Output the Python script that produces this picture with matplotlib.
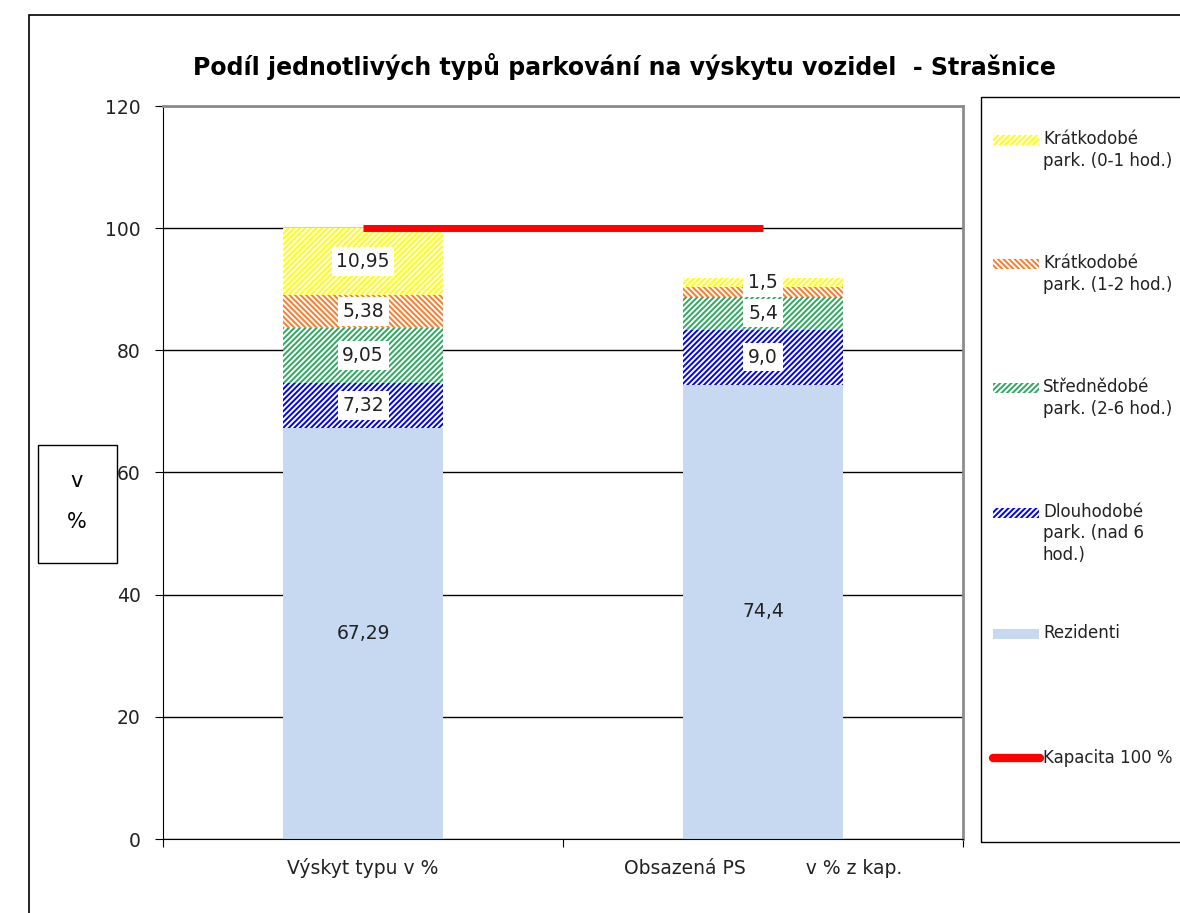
import matplotlib.pyplot as plt
from matplotlib.patches import Rectangle
from matplotlib.lines import Line2D

categories = ["Výskyt typu v %", "Obsazená PS          v % z kap."]
series = ["Rezidenti",
          "Dlouhodobé\npark. (nad 6\nhod.)",
          "Střednědobé\npark. (2-6 hod.)",
          "Krátkodobé\npark. (1-2 hod.)",
          "Krátkodobé\npark. (0-1 hod.)"]
values = [
    [67.29, 74.4],   # Rezidenti
    [7.32, 9.0],     # Dlouhodobé
    [9.05, 5.4],     # Střednědobé
    [5.38, 1.5],     # Krátkodobé 1-2
    [10.95, 1.5],    # Krátkodobé 0-1
]
# the 1-2 hod. label of the second bar is hidden behind the 0-1 hod. one in the original
labels = [
    ["67,29", "74,4"],
    ["7,32", "9,0"],
    ["9,05", "5,4"],
    ["5,38", ""],
    ["10,95", "1,5"],
]
capacity = 100
capacity_label = "Kapacita 100 %"

colors = ["#C6D9F0", "#0000FF", "#2DAA5E", "#FF7A2A", "#FFFF00"]
hatches = [None, "//////", "//////", "\\\\\\\\\\\\", "//////"]

plt.rcParams['font.family'] = ['DejaVu Sans']
plt.rcParams['hatch.linewidth'] = 1.4

fig = plt.figure(figsize=(11.8, 9.13), dpi=100)
W, H = 1180, 913

def fx(px):
    return px / W

def fy(py):
    return 1 - py / H

ax = fig.add_axes([fx(163), fy(839), fx(963) - fx(163), fy(106) - fy(839)])

x = range(len(categories))
bottom = [0, 0]
for i, (vals, col, hat) in enumerate(zip(values, colors, hatches)):
    if hat is None:
        ax.bar(x, vals, width=0.4, bottom=bottom, color=col, linewidth=0, zorder=2)
    else:
        ax.bar(x, vals, width=0.4, bottom=bottom, facecolor="white",
               edgecolor=col, hatch=hat, linewidth=0, zorder=2)
    for j, v in enumerate(vals):
        if not labels[i][j]:
            continue
        yc = bottom[j] + v / 2
        if hat is None:
            ax.text(j, yc, labels[i][j], ha="center", va="center", fontsize=13.5,
                    color="#222222", zorder=5)
        else:
            ax.text(j, yc, labels[i][j], ha="center", va="center", fontsize=13.5,
                    color="#222222", zorder=5,
                    bbox=dict(boxstyle="square,pad=0.25", fc="white", ec="none"))
    bottom = [b + v for b, v in zip(bottom, vals)]

ax.plot([0, 1], [capacity, capacity], color="#FF0000", lw=5, zorder=4,
        solid_capstyle="butt")

ax.set_xlim(-0.5, 1.5)
ax.set_ylim(0, 120)
ax.set_yticks(range(0, 121, 20))
ax.tick_params(axis="y", labelsize=13.5, length=6, direction="out", pad=10,
               labelcolor="#222222")
ax.yaxis.grid(True, color="#000000", lw=1)
ax.set_axisbelow(True)

ax.set_xticks([-0.5, 0.5, 1.5])
ax.set_xticklabels([])
ax.tick_params(axis="x", which="major", length=6, direction="out")
ax.set_xticks(list(x), minor=True)
ax.set_xticklabels(categories, minor=True)
ax.tick_params(axis="x", which="minor", length=0, labelsize=13.5, pad=14,
               labelcolor="#222222")

for s in ["top", "right"]:
    ax.spines[s].set_color("#8C8C8C")
    ax.spines[s].set_linewidth(2)
ax.spines["left"].set_color("#000000")
ax.spines["bottom"].set_color("#000000")

# title
fig.text(fx(624), fy(66), "Podíl jednotlivých typů parkování na výskytu vozidel  - Strašnice",
         ha="center", va="center", fontsize=17, fontweight="bold")

# outer chart frame
fig.add_artist(Rectangle((fx(29), -0.1), 2, fy(15) + 0.1, transform=fig.transFigure,
                         fill=False, ec="#000000", lw=1.2))

# y label box
fig.add_artist(Rectangle((fx(38), fy(563)), fx(117) - fx(38), fy(445) - fy(563),
                         transform=fig.transFigure, fill=False, ec="#000000", lw=1))
fig.text(fx(77), fy(481), "v", ha="center", va="center", fontsize=15)
fig.text(fx(77), fy(522), "%", ha="center", va="center", fontsize=15)

# legend
fig.add_artist(Rectangle((fx(981), fy(842)), 1, fy(97) - fy(842),
                         transform=fig.transFigure, fill=False, ec="#000000", lw=1))
leg_first_line = [140, 264, 388, 513, 634]
order = [4, 3, 2, 1, 0]
for k, idx in enumerate(order):
    yl = leg_first_line[k]
    if hatches[idx] is None:
        fig.add_artist(Rectangle((fx(993), fy(yl + 5)), fx(1039) - fx(993), fy(yl - 5) - fy(yl + 5),
                                 transform=fig.transFigure, fc=colors[idx], ec="none"))
    else:
        fig.add_artist(Rectangle((fx(993), fy(yl + 5)), fx(1039) - fx(993), fy(yl - 5) - fy(yl + 5),
                                 transform=fig.transFigure, fc="white", ec=colors[idx],
                                 hatch=hatches[idx], lw=0))
    fig.text(fx(1043), fy(yl - 10), series[idx], ha="left", va="top", fontsize=12,
             color="#222222", linespacing=1.25)
fig.add_artist(Line2D([fx(993), fx(1040)], [fy(758), fy(758)], transform=fig.transFigure,
                      color="#FF0000", lw=6, solid_capstyle="round"))
fig.text(fx(1043), fy(758), capacity_label, ha="left", va="center", fontsize=12,
         color="#222222")

fig.savefig("out.png", dpi=100)
